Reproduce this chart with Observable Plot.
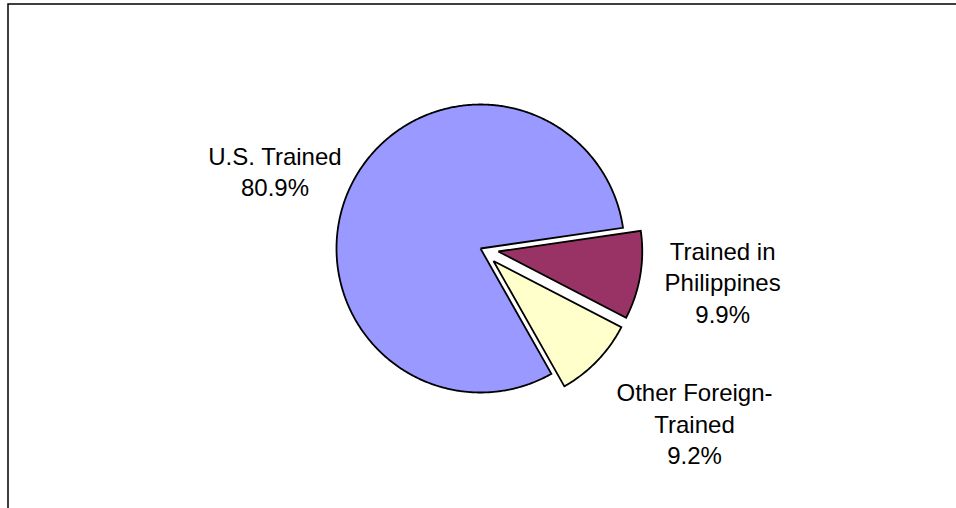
<!DOCTYPE html>
<html>
<head>
<meta charset="utf-8">
<script src="https://cdn.jsdelivr.net/npm/d3@7"></script>
<script src="https://cdn.jsdelivr.net/npm/@observablehq/plot@0.6"></script>
<style>
  html, body { margin: 0; padding: 0; background: #fff; overflow: hidden; }
  #chart svg { display: block; }
</style>
</head>
<body>
<div id="chart"></div>
<script>
// ---- data ----
const categories = ["U.S. Trained", "Trained in Philippines", "Other Foreign-Trained"];
const labelLines = ["U.S. Trained", "Trained in\nPhilippines", "Other Foreign-\nTrained"];
const values = [80.9, 9.9, 9.2];
const colors = ["#9999FF", "#993366", "#FFFFCC"];

// ---- layout (not data) ----
const startAngle = 150.5;            // compass degrees, clockwise from top
const explode = [0, 0.125, 0.125];   // in radius units
const labelDist = [1.527, 1.697, 1.916];
const labelShift = [-5.3, -1.8, -4.8]; // degrees

const total = d3.sum(values);
const rad = Math.PI / 180;
const pts = [];
const labels = [];
let a0 = startAngle;
categories.forEach((cat, i) => {
  const span = values[i] / total * 360;
  const a1 = a0 + span;
  const mid = (a0 + a1) / 2;
  const ox = explode[i] * Math.sin(mid * rad);
  const oy = explode[i] * Math.cos(mid * rad);
  pts.push({cat, x: ox, y: oy});
  const n = Math.max(2, Math.ceil(span / 0.5));
  for (let k = 0; k <= n; k++) {
    const a = a0 + span * k / n;
    pts.push({cat, x: ox + Math.sin(a * rad), y: oy + Math.cos(a * rad)});
  }
  pts.push({cat, x: ox, y: oy});
  const la = (mid + labelShift[i]) * rad;
  labels.push({
    cat,
    text: labelLines[i] + "\n" + values[i].toFixed(1) + "%",
    x: labelDist[i] * Math.sin(la),
    y: labelDist[i] * Math.cos(la)
  });
  a0 = a1;
});

const chart = Plot.plot({
  width: 956,
  height: 508,
  margin: 0,
  style: {background: "#fff", fontFamily: "'Liberation Sans', Arial, sans-serif"},
  x: {domain: [-1, 1], range: [336, 624], axis: null},
  y: {domain: [-1, 1], range: [392, 104], axis: null},
  color: {domain: categories, range: colors},
  marks: [
    Plot.frame({stroke: "#000", strokeWidth: 1.5, insetLeft: 7.5, insetTop: 3.5, insetRight: -10, insetBottom: -10}),
    Plot.line(pts, {
      x: "x", y: "y", z: "cat", fill: "cat",
      stroke: "#000", strokeWidth: 1.8,
      strokeLinejoin: "miter", strokeMiterlimit: 10, strokeLinecap: "butt",
      curve: "linear"
    }),
    Plot.text(labels, {
      x: "x", y: "y", text: "text",
      fontSize: 24, lineHeight: 1.3,
      fill: "#000", textAnchor: "middle"
    })
  ]
});
document.getElementById("chart").appendChild(chart);
</script>
</body>
</html>
